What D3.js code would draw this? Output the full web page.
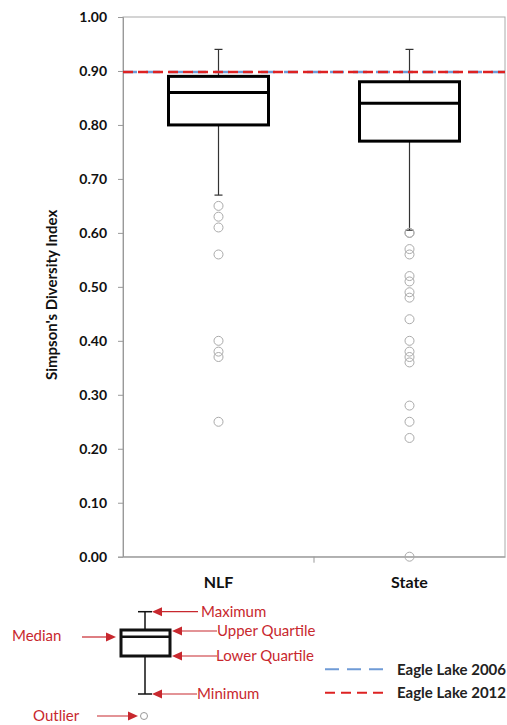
<!DOCTYPE html>
<html><head><meta charset="utf-8">
<script src="https://cdn.jsdelivr.net/npm/d3@7"></script>
<style>body{margin:0;background:#fff}svg{display:block}</style>
</head><body>
<script>
const categories = ["NLF", "State"];
const whiskerMax = [0.94, 0.94];
const upperQuartile = [0.89, 0.88];
const medians = [0.86, 0.84];
const lowerQuartile = [0.80, 0.77];
const whiskerMin = [0.67, 0.605];
const outliersNLF = [0.65, 0.63, 0.61, 0.56, 0.40, 0.38, 0.37, 0.25];
const outliersState = [0.60, 0.60, 0.57, 0.56, 0.52, 0.51, 0.49, 0.48, 0.44, 0.40, 0.38, 0.37, 0.36, 0.28, 0.25, 0.22, 0.00];
const yTicks = [0, 0.1, 0.2, 0.3, 0.4, 0.5, 0.6, 0.7, 0.8, 0.9, 1.0];
const refNames = ["Eagle Lake 2006", "Eagle Lake 2012"];
const refValues = [0.898, 0.898];
const refColors = ["#6f9bd6", "#dd2222"];
const refDash = ["14,9", "10,5"];
const yLabel = "Simpson's Diversity Index";

const W = 507, H = 725;
const m = {left: 123, right: 505, top: 17, bottom: 556.7};
const svg = d3.select("body").append("svg").attr("width", W).attr("height", H);
const font = "Lato, 'Open Sans', sans-serif";

const x = d3.scaleBand().domain(categories).range([m.left, m.right]);
const y = d3.scaleLinear().domain([0, 1]).range([m.bottom, m.top]);

// frame
svg.append("rect").attr("x", m.left).attr("y", m.top).attr("width", m.right - m.left)
  .attr("height", m.bottom - m.top).attr("fill", "none").attr("stroke", "#aaa").attr("stroke-width", 1);

// y axis
const yAxis = svg.append("g").attr("transform", `translate(${m.left},0)`)
  .call(d3.axisLeft(y).tickValues(yTicks).tickFormat(d3.format(".2f")).tickSize(5).tickPadding(11));
yAxis.select(".domain").attr("stroke", "#999");
yAxis.selectAll(".tick line").attr("stroke", "#999");
yAxis.selectAll("text").attr("font-family", font).attr("font-weight", "bold").attr("font-size", 14).attr("fill", "#111");

// x axis
const xAxis = svg.append("g").attr("transform", `translate(0,${m.bottom})`)
  .call(d3.axisBottom(x).tickSize(0).tickPadding(20));
xAxis.select(".domain").attr("stroke", "#999");
xAxis.selectAll("text").attr("font-family", font).attr("font-weight", "bold").attr("font-size", 16).attr("fill", "#111");
// boundary tick between categories
svg.append("line").attr("x1", x("State")).attr("x2", x("State")).attr("y1", m.bottom).attr("y2", m.bottom + 6)
  .attr("stroke", "#999");

// y label
svg.append("text").attr("transform", `translate(57,${(m.top + m.bottom) / 2 + 8}) rotate(-90)`)
  .attr("text-anchor", "middle").attr("font-family", font).attr("font-weight", "bold").attr("font-size", 15)
  .attr("fill", "#111").text(yLabel);

// boxes
const boxW = 100;
categories.forEach((c, i) => {
  const cx = x(c) + x.bandwidth() / 2;
  const g = svg.append("g");
  g.append("line").attr("x1", cx).attr("x2", cx).attr("y1", y(whiskerMax[i])).attr("y2", y(upperQuartile[i])).attr("stroke", "#333").attr("stroke-width", 1.2);
  g.append("line").attr("x1", cx).attr("x2", cx).attr("y1", y(lowerQuartile[i])).attr("y2", y(whiskerMin[i])).attr("stroke", "#333").attr("stroke-width", 1.2);
  [whiskerMax[i], whiskerMin[i]].forEach(v => g.append("line").attr("x1", cx - 4).attr("x2", cx + 4).attr("y1", y(v)).attr("y2", y(v)).attr("stroke", "#333").attr("stroke-width", 1.2));
  g.append("rect").attr("x", cx - boxW / 2).attr("y", y(upperQuartile[i])).attr("width", boxW)
    .attr("height", y(lowerQuartile[i]) - y(upperQuartile[i])).attr("fill", "none").attr("stroke", "#000").attr("stroke-width", 3);
  g.append("line").attr("x1", cx - boxW / 2).attr("x2", cx + boxW / 2).attr("y1", y(medians[i])).attr("y2", y(medians[i])).attr("stroke", "#000").attr("stroke-width", 3);
  const outs = i === 0 ? outliersNLF : outliersState;
  g.selectAll("circle").data(outs).join("circle").attr("cx", cx).attr("cy", d => y(d)).attr("r", 4.5)
    .attr("fill", "none").attr("stroke", "#aaa").attr("stroke-width", 1);
});

// reference lines
refValues.forEach((v, i) => {
  svg.append("line").attr("x1", m.left).attr("x2", m.right).attr("y1", y(v)).attr("y2", y(v))
    .attr("stroke", refColors[i]).attr("stroke-width", 2.5).attr("stroke-dasharray", refDash[i]);
});

// key diagram
const red = "#c8282e";
const kx = 145, kTop = 611.7, kQ3 = 630, kMed = 636.7, kQ1 = 656, kBot = 694, kOut = 716;
const k = svg.append("g");
k.append("line").attr("x1", kx).attr("x2", kx).attr("y1", kTop).attr("y2", kQ3).attr("stroke", "#111").attr("stroke-width", 1.5);
k.append("line").attr("x1", kx).attr("x2", kx).attr("y1", kQ1).attr("y2", kBot).attr("stroke", "#111").attr("stroke-width", 1.5);
[kTop, kBot].forEach(v => k.append("line").attr("x1", kx - 7).attr("x2", kx + 7).attr("y1", v).attr("y2", v).attr("stroke", "#111").attr("stroke-width", 1.5));
k.append("rect").attr("x", 121).attr("y", kQ3).attr("width", 49).attr("height", kQ1 - kQ3).attr("fill", "none").attr("stroke", "#111").attr("stroke-width", 3);
k.append("line").attr("x1", 121).attr("x2", 170).attr("y1", kMed).attr("y2", kMed).attr("stroke", "#111").attr("stroke-width", 2.5);
k.append("circle").attr("cx", 144).attr("cy", kOut).attr("r", 3.5).attr("fill", "none").attr("stroke", "#999").attr("stroke-width", 1);

function arrow(x1, x2, yy) {
  const dir = Math.sign(x2 - x1);
  k.append("line").attr("x1", x1).attr("x2", x2 - dir * 8).attr("y1", yy).attr("y2", yy).attr("stroke", red).attr("stroke-width", 1.2);
  k.append("path").attr("d", `M${x2},${yy} L${x2 - dir * 10},${yy - 4.5} L${x2 - dir * 10},${yy + 4.5} Z`).attr("fill", red);
}
function label(t, xx, yy) {
  k.append("text").attr("x", xx).attr("y", yy).attr("dy", "0.35em").attr("font-family", font)
    .attr("font-size", 15).attr("fill", red).text(t);
}
arrow(198, 152, kTop); label("Maximum", 201, kTop);
arrow(217, 172, 631); label("Upper Quartile", 217, 631);
arrow(217, 172, 656); label("Lower Quartile", 216, 656);
arrow(197, 152, kBot); label("Minimum", 197, kBot);
arrow(82, 116, 637); label("Median", 12, 636);
arrow(97, 138, kOut); label("Outlier", 33, kOut);

// legend
const legY = [669.3, 692.7];
refNames.forEach((n, i) => {
  svg.append("line").attr("x1", 325).attr("x2", 387).attr("y1", legY[i]).attr("y2", legY[i])
    .attr("stroke", refColors[i]).attr("stroke-width", 2).attr("stroke-dasharray", i === 0 ? "14,8" : "10,6");
  svg.append("text").attr("x", 397).attr("y", legY[i]).attr("dy", "0.35em").attr("font-family", font)
    .attr("font-weight", "bold").attr("font-size", 15).attr("fill", "#222").text(n);
});
</script>
</body></html>
